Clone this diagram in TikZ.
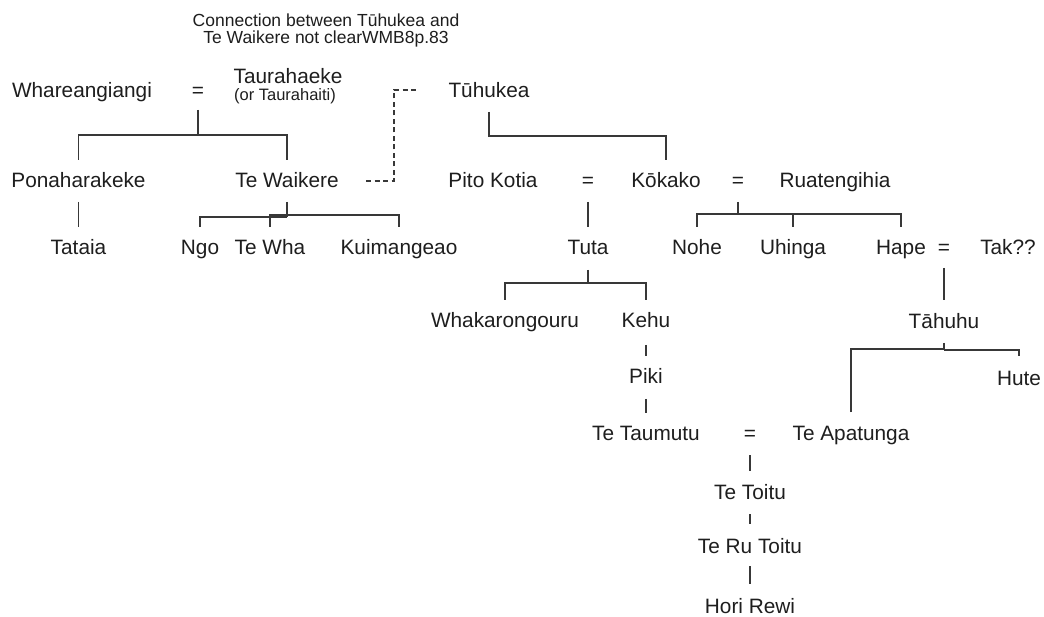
\documentclass[tikz,border=0pt]{standalone}
\usepackage{fontspec}
\setmainfont{Liberation Sans}
\definecolor{ink}{HTML}{1E1E1E}
\definecolor{wire}{HTML}{383838}
\begin{document}
\begin{tikzpicture}[x=1pt,y=-1pt,
  person/.style={anchor=base,inner sep=0pt,text=ink,font=\fontsize{20.8}{24}\selectfont},
  remark/.style={anchor=base,inner sep=0pt,text=ink,font=\fontsize{17.5}{20}\selectfont},
  aside/.style={anchor=base,inner sep=0pt,text=ink,font=\fontsize{16.5}{19}\selectfont},
  link/.style={draw=wire,line width=1.7pt},
  doubt/.style={link,line width=1.5pt,dash pattern=on 5pt off 3.5pt}]
\fill[white] (0,0) rectangle (1044,617);
\useasboundingbox (0,0) rectangle (1044,617);

% note at the top
\node[remark] (note1) at (326,27) {Connection between Tūhukea and};
\node[remark] (note2) at (326,44) {Te Waikere not clearWMB8p.83};

% first generation
\node[person] (whare) at (82,98) {Whareangiangi};
\node[person] (eqA) at (198,98) {=};
\node[person] (taura) at (288,84) {Taurahaeke};
\node[aside] (orT) at (285,101) {(or Taurahaiti)};
\node[person] (tuhu) at (489,98) {Tūhukea};

% second generation
\node[person] (pona) at (78.5,188) {Ponaharakeke};
\node[person] (waik) at (287,188) {Te Waikere};
\node[person] (pito) at (493,188) {Pito Kotia};
\node[person] (eqB) at (588,188) {=};
\node[person] (kokako) at (666,188) {Kōkako};
\node[person] (eqC) at (738,188) {=};
\node[person] (rua) at (835,188) {Ruatengihia};

% third generation
\node[person] (tataia) at (78.5,255) {Tataia};
\node[person] (ngo) at (200,255) {Ngo};
\node[person] (tewha) at (270,255) {Te Wha};
\node[person] (kuim) at (399,255) {Kuimangeao};
\node[person] (tuta) at (588,255) {Tuta};
\node[person] (nohe) at (697,255) {Nohe};
\node[person] (uhinga) at (793,255) {Uhinga};
\node[person] (hape) at (901,255) {Hape};
\node[person] (eqD) at (944,255) {=};
\node[person] (tak) at (1008,255) {Tak??};

% later generations
\node[person] (whak) at (505,328) {Whakarongouru};
\node[person] (kehu) at (646,328) {Kehu};
\node[person] (tahuhu) at (944,329) {Tāhuhu};
\node[person] (piki) at (646,384) {Piki};
\node[person] (hute) at (1019,385) {Hute};
\node[person] (taum) at (646,440) {Te Taumutu};
\node[person] (eqE) at (750,440) {=};
\node[person] (apat) at (851,440) {Te Apatunga};
\node[person] (toitu) at (750,499) {Te Toitu};
\node[person] (ru) at (750,553) {Te Ru Toitu};
\node[person] (hori) at (750,613) {Hori Rewi};

% Whareangiangi = Taurahaeke
\draw[link] ([yshift=-12pt]eqA.base) -- ++(0,25) coordinate (barA);
\draw[link] ([yshift=28pt]pona.base) |- (barA) -| ([yshift=28pt]waik.base);

% Tūhukea
\draw[link] ([yshift=-14pt]tuhu.base) -- ++(0,24) -| ([yshift=28pt]kokako.base);

% uncertain link between Te Waikere and Tūhukea
\coordinate (dA) at (366,181);
\coordinate (dB) at (419,90);
\draw[doubt] (dA) -- ++(28,0) |- (dB);

% Ponaharakeke
\draw[link] ([yshift=-14pt]pona.base) -- ([yshift=28pt]tataia.base);

% Te Waikere
\draw[link] ([yshift=-14pt]waik.base) -- ++(0,15) coordinate (barW);
\draw[link] ([yshift=28pt]ngo.base) |- (barW);
\draw[link] ([yshift=28pt]tewha.base) |- ([yshift=2pt]barW) -| ([yshift=28pt]kuim.base);

% Pito Kotia = Kōkako
\draw[link] ([yshift=-14pt]eqB.base) -- ([yshift=28pt]tuta.base);

% Kōkako = Ruatengihia
\draw[link] ([yshift=-14pt]eqC.base) -- ++(0,12) coordinate (barC);
\draw[link] ([yshift=28pt]nohe.base) |- (barC) -| ([yshift=28pt]hape.base);
\draw[link] ([yshift=28pt]uhinga.base) -- (uhinga.base |- barC);

% Tuta
\draw[link] ([yshift=-15pt]tuta.base) -- ++(0,13) coordinate (barT);
\draw[link] ([yshift=28pt]whak.base) |- (barT) -| ([yshift=28pt]kehu.base);
\draw[link] ([yshift=-17pt]kehu.base) -- ([yshift=28pt]piki.base);
\draw[link] ([yshift=-15pt]piki.base) -- ([yshift=27pt]taum.base);

% Hape = Tak??
\draw[link] ([yshift=-13pt]eqD.base) -- ([yshift=29pt]tahuhu.base);

% Tāhuhu
\draw[link] ([yshift=-14pt]tahuhu.base) -- ++(0,7) coordinate (barH);
\draw[link] ([yshift=28pt]apat.base) |- ([yshift=1pt]barH);
\draw[link] (barH) -| ([yshift=29pt]hute.base);

% Te Taumutu = Te Apatunga
\draw[link] ([yshift=-15pt]eqE.base) -- ([yshift=28pt]toitu.base);
\draw[link] ([yshift=-15pt]toitu.base) -- ([yshift=29pt]ru.base);
\draw[link] ([yshift=-13pt]ru.base) -- ([yshift=29pt]hori.base);
\end{tikzpicture}
\end{document}
